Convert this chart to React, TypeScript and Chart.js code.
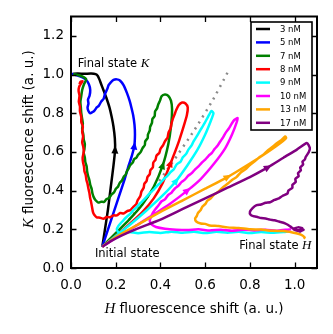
import React, { useEffect, useRef } from 'react';
import { Chart, registerables } from 'chart.js';

Chart.register(...registerables);

// ---------- data ----------
const X_TICKS = [0, 0.2, 0.4, 0.6, 0.8, 1.0];
const Y_TICKS = [0, 0.2, 0.4, 0.6, 0.8, 1.0, 1.2];

const LABELS = ['3 nM', '5 nM', '7 nM', '8 nM', '9 nM', '10 nM', '13 nM', '17 nM'];
const COLORS = ['#000000', '#0000ff', '#008000', '#ff0000', '#00ffff', '#ff00ff', '#ffa500', '#800080'];
const ARROW_AT = [5, 8, 5, 6, 5, 5, 6, 9];

// [H shift, K shift]
const S_3NM: [number, number][] = [
  [0.14, 0.11], [0.152, 0.2], [0.165, 0.3], [0.178, 0.42], [0.19, 0.53], [0.197, 0.61], [0.196, 0.67],
  [0.19, 0.73], [0.182, 0.78], [0.172, 0.83], [0.158, 0.88], [0.145, 0.92], [0.135, 0.95], [0.127, 0.975],
  [0.12, 0.993], [0.11, 1.002], [0.09, 1.005], [0.06, 1.004], [0.03, 1.005], [0.008, 1.003],
];
const S_5NM: [number, number][] = [
  [0.14, 0.11], [0.16, 0.18], [0.18, 0.25], [0.2, 0.32], [0.22, 0.39], [0.24, 0.46], [0.258, 0.53],
  [0.272, 0.58], [0.283, 0.63], [0.286, 0.69], [0.284, 0.74], [0.278, 0.79], [0.27, 0.83], [0.262, 0.865],
  [0.25, 0.905], [0.235, 0.945], [0.22, 0.968], [0.205, 0.975], [0.19, 0.972], [0.178, 0.96], [0.168, 0.945],
  [0.162, 0.925], [0.152, 0.9], [0.146, 0.875], [0.135, 0.86], [0.124, 0.838], [0.115, 0.83], [0.104, 0.812],
  [0.095, 0.805], [0.086, 0.8], [0.078, 0.812], [0.074, 0.83], [0.078, 0.85], [0.076, 0.87], [0.083, 0.89],
  [0.086, 0.92], [0.08, 0.95], [0.065, 0.975], [0.04, 0.99], [0.015, 1.0], [0.003, 1.003],
];
const S_7NM: [number, number][] = [
  [0.14, 0.11], [0.2, 0.18], [0.26, 0.25], [0.32, 0.33], [0.37, 0.42], [0.41, 0.53], [0.435, 0.64],
  [0.448, 0.74], [0.452, 0.82], [0.447, 0.865], [0.435, 0.89], [0.42, 0.897], [0.405, 0.888], [0.398, 0.865],
  [0.39, 0.845], [0.385, 0.825], [0.376, 0.81], [0.374, 0.785], [0.364, 0.77], [0.362, 0.75], [0.354, 0.73],
  [0.352, 0.71], [0.344, 0.69], [0.343, 0.672], [0.332, 0.655], [0.33, 0.635], [0.32, 0.62], [0.312, 0.6],
  [0.3, 0.585], [0.292, 0.57], [0.282, 0.562], [0.276, 0.545], [0.265, 0.532], [0.258, 0.515], [0.25, 0.5],
  [0.244, 0.482], [0.235, 0.47], [0.228, 0.452], [0.218, 0.44], [0.21, 0.42], [0.2, 0.408], [0.192, 0.39],
  [0.18, 0.378], [0.17, 0.362], [0.158, 0.355], [0.148, 0.342], [0.135, 0.342], [0.122, 0.338], [0.11, 0.35],
  [0.102, 0.365], [0.096, 0.385], [0.092, 0.41], [0.086, 0.43], [0.082, 0.455], [0.076, 0.478], [0.072, 0.5],
  [0.07, 0.525], [0.064, 0.548], [0.062, 0.57], [0.057, 0.595], [0.06, 0.615], [0.062, 0.64], [0.057, 0.665],
  [0.055, 0.69], [0.05, 0.72], [0.053, 0.745], [0.05, 0.77], [0.046, 0.8], [0.044, 0.83], [0.042, 0.86],
  [0.046, 0.89], [0.05, 0.92], [0.058, 0.95], [0.068, 0.975], [0.05, 0.99], [0.03, 0.998], [0.01, 1.002],
];
const S_8NM: [number, number][] = [
  [0.14, 0.11], [0.2, 0.165], [0.26, 0.225], [0.32, 0.29], [0.37, 0.36], [0.41, 0.44], [0.445, 0.54],
  [0.478, 0.64], [0.503, 0.73], [0.518, 0.79], [0.522, 0.83], [0.512, 0.85], [0.497, 0.855], [0.482, 0.842],
  [0.47, 0.815], [0.462, 0.79], [0.455, 0.77], [0.449, 0.745], [0.445, 0.72], [0.436, 0.7], [0.432, 0.675],
  [0.42, 0.655], [0.412, 0.635], [0.4, 0.615], [0.395, 0.595], [0.382, 0.58], [0.378, 0.56], [0.368, 0.545],
  [0.366, 0.52], [0.355, 0.505], [0.352, 0.485], [0.342, 0.47], [0.338, 0.45], [0.328, 0.435], [0.325, 0.415],
  [0.315, 0.395], [0.31, 0.372], [0.298, 0.35], [0.292, 0.33], [0.278, 0.315], [0.266, 0.3], [0.25, 0.293],
  [0.235, 0.282], [0.22, 0.284], [0.205, 0.272], [0.19, 0.272], [0.175, 0.262], [0.16, 0.264], [0.145, 0.254],
  [0.13, 0.26], [0.115, 0.262], [0.104, 0.275], [0.098, 0.29], [0.094, 0.315], [0.09, 0.34], [0.086, 0.36],
  [0.082, 0.39], [0.078, 0.41], [0.074, 0.435], [0.069, 0.455], [0.066, 0.48], [0.06, 0.5], [0.058, 0.525],
  [0.054, 0.545], [0.052, 0.57], [0.057, 0.6], [0.055, 0.625], [0.05, 0.65], [0.054, 0.68], [0.05, 0.705],
  [0.053, 0.73], [0.046, 0.755], [0.046, 0.78], [0.04, 0.81], [0.04, 0.835], [0.035, 0.86], [0.038, 0.89],
  [0.034, 0.915], [0.036, 0.935], [0.045, 0.955], [0.052, 0.965], [0.042, 0.962], [0.038, 0.95],
];
const S_9NM: [number, number][] = [
  [0.14, 0.11], [0.2, 0.165], [0.27, 0.23], [0.34, 0.3], [0.41, 0.375], [0.47, 0.45], [0.52, 0.53],
  [0.565, 0.61], [0.6, 0.69], [0.625, 0.76], [0.637, 0.8], [0.628, 0.812], [0.612, 0.78], [0.598, 0.75],
  [0.585, 0.725], [0.572, 0.7], [0.562, 0.68], [0.548, 0.655], [0.54, 0.635], [0.525, 0.612], [0.515, 0.59],
  [0.5, 0.572], [0.49, 0.55], [0.472, 0.535], [0.46, 0.51], [0.445, 0.495], [0.43, 0.475], [0.415, 0.46],
  [0.4, 0.44], [0.385, 0.425], [0.37, 0.405], [0.355, 0.39], [0.34, 0.37], [0.325, 0.352], [0.31, 0.335],
  [0.295, 0.316], [0.28, 0.3], [0.265, 0.28], [0.25, 0.265], [0.235, 0.248], [0.225, 0.235], [0.212, 0.218],
  [0.205, 0.2], [0.212, 0.185], [0.23, 0.182], [0.26, 0.186], [0.3, 0.18], [0.35, 0.186], [0.4, 0.181],
  [0.45, 0.188], [0.5, 0.182], [0.55, 0.187], [0.6, 0.181], [0.65, 0.187], [0.7, 0.182], [0.75, 0.187],
  [0.8, 0.181], [0.85, 0.186], [0.9, 0.182], [0.95, 0.186], [0.975, 0.19],
];
const S_10NM: [number, number][] = [
  [0.14, 0.11], [0.2, 0.155], [0.28, 0.21], [0.36, 0.27], [0.44, 0.33], [0.52, 0.4], [0.58, 0.46],
  [0.64, 0.54], [0.69, 0.62], [0.72, 0.69], [0.74, 0.75], [0.745, 0.775], [0.73, 0.765], [0.718, 0.745],
  [0.705, 0.72], [0.692, 0.7], [0.68, 0.675], [0.668, 0.655], [0.655, 0.632], [0.642, 0.615], [0.63, 0.595],
  [0.615, 0.58], [0.6, 0.56], [0.585, 0.545], [0.57, 0.525], [0.555, 0.51], [0.54, 0.49], [0.525, 0.478],
  [0.51, 0.458], [0.495, 0.445], [0.48, 0.425], [0.465, 0.412], [0.45, 0.39], [0.435, 0.378], [0.42, 0.355],
  [0.405, 0.345], [0.39, 0.322], [0.378, 0.305], [0.366, 0.285], [0.358, 0.265], [0.352, 0.245],
  [0.36, 0.225], [0.38, 0.212], [0.42, 0.203], [0.47, 0.198], [0.52, 0.196], [0.57, 0.2], [0.62, 0.194],
  [0.67, 0.198], [0.72, 0.193], [0.77, 0.198], [0.82, 0.194], [0.87, 0.198], [0.92, 0.193], [0.96, 0.198],
  [0.985, 0.2],
];
const S_13NM: [number, number][] = [
  [0.14, 0.11], [0.2, 0.16], [0.3, 0.225], [0.4, 0.29], [0.5, 0.35], [0.6, 0.41], [0.7, 0.47],
  [0.8, 0.54], [0.88, 0.6], [0.935, 0.645], [0.962, 0.672], [0.958, 0.68], [0.94, 0.66], [0.92, 0.645],
  [0.9, 0.625], [0.88, 0.608], [0.86, 0.585], [0.84, 0.57], [0.82, 0.55], [0.8, 0.532], [0.78, 0.51],
  [0.76, 0.495], [0.74, 0.47], [0.72, 0.455], [0.7, 0.435], [0.68, 0.418], [0.66, 0.395], [0.64, 0.38],
  [0.625, 0.36], [0.61, 0.348], [0.6, 0.33], [0.588, 0.318], [0.58, 0.3], [0.568, 0.285], [0.562, 0.268],
  [0.555, 0.255], [0.56, 0.24], [0.58, 0.23], [0.6, 0.228], [0.62, 0.22], [0.66, 0.217], [0.7, 0.21],
  [0.75, 0.207], [0.8, 0.2], [0.85, 0.199], [0.9, 0.192], [0.95, 0.191], [0.99, 0.184], [1.02, 0.176],
  [1.035, 0.168], [1.045, 0.158], [1.04, 0.152],
];
const S_17NM: [number, number][] = [
  [0.14, 0.11], [0.18, 0.14], [0.23, 0.17], [0.3, 0.205], [0.4, 0.25], [0.5, 0.305], [0.6, 0.36],
  [0.7, 0.415], [0.8, 0.47], [0.88, 0.52], [0.95, 0.57], [1.01, 0.612], [1.055, 0.646], [1.068, 0.62],
  [1.063, 0.598], [1.05, 0.575], [1.045, 0.56], [1.035, 0.55], [1.038, 0.535], [1.025, 0.52], [1.028, 0.505],
  [1.015, 0.49], [1.018, 0.475], [1.003, 0.46], [1.005, 0.445], [0.99, 0.43], [0.99, 0.415], [0.972, 0.4],
  [0.968, 0.385], [0.945, 0.372], [0.93, 0.36], [0.91, 0.352], [0.89, 0.34], [0.87, 0.337], [0.85, 0.328],
  [0.83, 0.325], [0.812, 0.31], [0.8, 0.29], [0.803, 0.275], [0.815, 0.268], [0.83, 0.265], [0.85, 0.258],
  [0.87, 0.256], [0.89, 0.25], [0.91, 0.247], [0.93, 0.24], [0.95, 0.234], [0.965, 0.226], [0.98, 0.215],
  [1.0, 0.2], [1.02, 0.195], [1.035, 0.205], [1.015, 0.21], [0.995, 0.2], [1.025, 0.19], [1.04, 0.198],
  [1.02, 0.186],
];
const SEPARATRIX: [number, number][] = [
  [0.26, 0.25], [0.35, 0.38], [0.45, 0.54], [0.55, 0.71], [0.63, 0.86], [0.7, 1.01],
];

const SERIES = [S_3NM, S_5NM, S_7NM, S_8NM, S_9NM, S_10NM, S_13NM, S_17NM];

// annotation anchors (data coords)
const NOTE_FINAL_K: [number, number] = [0.03, 1.055];
const NOTE_INITIAL: [number, number] = [0.107, 0.072];
const NOTE_FINAL_H: [number, number] = [0.752, 0.114];

const SANS = '"DejaVu Sans", sans-serif';
const MATH = '"Liberation Serif", "DejaVu Serif", serif';

type Part = { text: string; font: string };

function drawRich(ctx: CanvasRenderingContext2D, parts: Part[], x: number, y: number, align: 'left' | 'center') {
  let total = 0;
  const widths = parts.map((p) => {
    ctx.font = p.font;
    const w = ctx.measureText(p.text).width;
    total += w;
    return w;
  });
  let cx = align === 'center' ? x - total / 2 : x;
  ctx.textAlign = 'left';
  ctx.textBaseline = 'middle';
  parts.forEach((p, i) => {
    ctx.font = p.font;
    ctx.fillText(p.text, cx, y);
    cx += widths[i];
  });
}

const decorPlugin = {
  id: 'decor',
  afterDatasetsDraw(chart: any) {
    const ctx: CanvasRenderingContext2D = chart.ctx;
    ctx.save();
    SERIES.forEach((_, i) => {
      const meta = chart.getDatasetMeta(i);
      const idx = ARROW_AT[i];
      const p = meta.data[idx];
      const a = meta.data[idx - 1];
      const b = meta.data[idx + 1];
      if (!p || !a || !b) return;
      const ang = Math.atan2(b.y - a.y, b.x - a.x);
      ctx.save();
      ctx.translate(p.x, p.y);
      ctx.rotate(ang);
      ctx.beginPath();
      ctx.moveTo(4.5, 0);
      ctx.lineTo(-3.5, -3.5);
      ctx.lineTo(-3.5, 3.5);
      ctx.closePath();
      ctx.fillStyle = COLORS[i];
      ctx.fill();
      ctx.restore();
    });
    ctx.restore();
  },
  afterDraw(chart: any) {
    const ctx: CanvasRenderingContext2D = chart.ctx;
    const { left, right, top, bottom } = chart.chartArea;
    const xs = chart.scales.x;
    const ys = chart.scales.y;
    ctx.save();
    ctx.fillStyle = '#000';

    // annotations
    const nf = `11.5px ${SANS}`;
    const mf = `italic 13px ${MATH}`;
    drawRich(ctx, [{ text: 'Final state ', font: nf }, { text: 'K', font: mf }],
      xs.getPixelForValue(NOTE_FINAL_K[0]), ys.getPixelForValue(NOTE_FINAL_K[1]), 'left');
    drawRich(ctx, [{ text: 'Initial state', font: nf }],
      xs.getPixelForValue(NOTE_INITIAL[0]), ys.getPixelForValue(NOTE_INITIAL[1]), 'left');
    drawRich(ctx, [{ text: 'Final state ', font: nf }, { text: 'H', font: mf }],
      xs.getPixelForValue(NOTE_FINAL_H[0]), ys.getPixelForValue(NOTE_FINAL_H[1]), 'left');

    // ticks (inward, all sides)
    ctx.strokeStyle = '#000';
    ctx.lineWidth = 1.3;
    ctx.beginPath();
    X_TICKS.forEach((v) => {
      const px = Math.round(xs.getPixelForValue(v)) + 0.5;
      ctx.moveTo(px, bottom); ctx.lineTo(px, bottom - 5.5);
      ctx.moveTo(px, top); ctx.lineTo(px, top + 5.5);
    });
    Y_TICKS.forEach((v) => {
      const py = Math.round(ys.getPixelForValue(v)) + 0.5;
      ctx.moveTo(left, py); ctx.lineTo(left + 5.5, py);
      ctx.moveTo(right, py); ctx.lineTo(right - 5.5, py);
    });
    ctx.stroke();

    // frame
    ctx.lineWidth = 2;
    ctx.strokeRect(left, top, right - left, bottom - top);

    // legend
    const lx0 = right - 66;
    const lx1 = right - 5;
    const ly0 = top + 5.5;
    const ly1 = top + 113.5;
    ctx.fillStyle = '#fff';
    ctx.fillRect(lx0, ly0, lx1 - lx0, ly1 - ly0);
    ctx.lineWidth = 1.6;
    ctx.strokeStyle = '#000';
    ctx.strokeRect(lx0, ly0, lx1 - lx0, ly1 - ly0);
    LABELS.forEach((lab, i) => {
      const y = ly0 + 7 + i * 13.4;
      ctx.strokeStyle = COLORS[i];
      ctx.lineWidth = 2.5;
      ctx.beginPath();
      ctx.moveTo(lx0 + 5, y);
      ctx.lineTo(lx0 + 19, y);
      ctx.stroke();
      ctx.fillStyle = '#000';
      ctx.font = `8.5px ${SANS}`;
      ctx.textAlign = 'left';
      ctx.textBaseline = 'middle';
      ctx.fillText(lab, lx0 + 29, y + 0.5);
    });

    // axis titles
    ctx.fillStyle = '#000';
    const tf = `13.5px ${SANS}`;
    const tm = `italic 15px ${MATH}`;
    drawRich(ctx, [{ text: 'H', font: tm }, { text: ' fluorescence shift (a. u.)', font: tf }],
      (left + right) / 2, bottom + 41, 'center');
    ctx.save();
    ctx.translate(29, (top + bottom) / 2 - 3);
    ctx.rotate(-Math.PI / 2);
    drawRich(ctx, [{ text: 'K', font: tm }, { text: ' fluorescence shift (a. u.)', font: tf }], 0, 0, 'center');
    ctx.restore();

    ctx.restore();
  },
};

export default function App() {
  const ref = useRef<HTMLCanvasElement | null>(null);

  useEffect(() => {
    if (!ref.current) return;
    const datasets: any[] = SERIES.map((s, i) => ({
      label: LABELS[i],
      data: s.map(([x, y]) => ({ x, y })),
      showLine: true,
      borderColor: COLORS[i],
      backgroundColor: COLORS[i],
      borderWidth: 2.5,
      pointRadius: 0,
      tension: 0.2,
      fill: false,
      order: 8 - i,
    }));
    datasets.push({
      label: 'separatrix',
      data: SEPARATRIX.map(([x, y]) => ({ x, y })),
      showLine: true,
      borderColor: '#8a8a8a',
      borderWidth: 2.5,
      borderDash: [2, 5],
      pointRadius: 0,
      tension: 0.2,
      fill: false,
      order: 100,
    });

    const tickFont = { family: SANS, size: 13.5 };
    const chart = new Chart(ref.current, {
      type: 'scatter',
      data: { datasets },
      options: {
        responsive: false,
        animation: false,
        devicePixelRatio: 1,
        events: [],
        layout: { padding: { left: 0, right: 16, top: 16.5, bottom: 0 } },
        plugins: { legend: { display: false }, tooltip: { enabled: false } },
        scales: {
          x: {
            type: 'linear',
            min: 0,
            max: 1.1,
            afterBuildTicks: (s: any) => { s.ticks = X_TICKS.map((v) => ({ value: v })); },
            afterFit: (s: any) => { s.height = 66; },
            grid: { display: false, drawTicks: false },
            border: { display: false },
            ticks: {
              padding: 9,
              color: '#000',
              font: tickFont,
              maxRotation: 0,
              autoSkip: false,
              callback: (v: any) => Number(v).toFixed(1),
            },
          },
          y: {
            type: 'linear',
            min: 0,
            max: 1.3,
            afterBuildTicks: (s: any) => { s.ticks = Y_TICKS.map((v) => ({ value: v })); },
            afterFit: (s: any) => { s.width = 71; },
            grid: { display: false, drawTicks: false },
            border: { display: false },
            ticks: {
              padding: 7,
              color: '#000',
              font: tickFont,
              autoSkip: false,
              callback: (v: any) => Number(v).toFixed(1),
            },
          },
        },
      } as any,
      plugins: [decorPlugin as any],
    });
    return () => chart.destroy();
  }, []);

  return (
    <div style={{ position: 'absolute', left: 0, top: 0, width: 333, height: 334, background: '#fff' }}>
      <canvas ref={ref} width={333} height={334} style={{ width: 333, height: 334, display: 'block' }} />
    </div>
  );
}
